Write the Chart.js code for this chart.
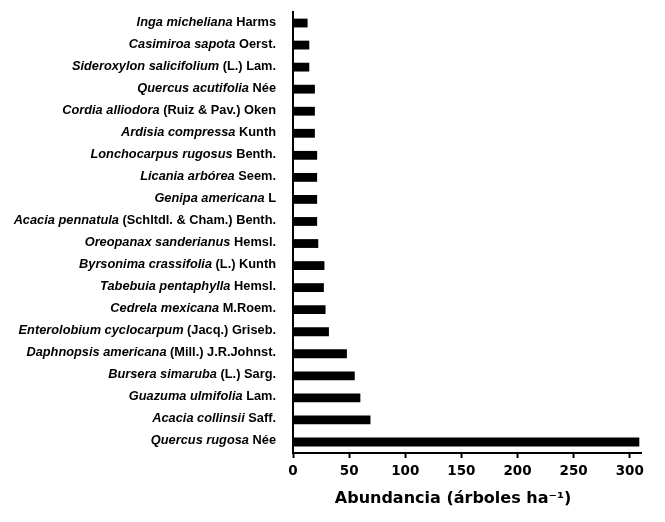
<!DOCTYPE html>
<html>
<head>
<meta charset="utf-8">
<script src="https://cdn.jsdelivr.net/npm/chart.js@4"></script>
<style>
    html, body { margin: 0; padding: 0; background: #fff; }
    #wrap { width: 665px; height: 522px; }
</style>
</head>
<body>
<div id="wrap"><canvas id="barChart" width="665" height="522"></canvas></div>
<script>
// Species (italic part) and authority (regular part), top to bottom
const genusNames = [
    'Inga micheliana', 'Casimiroa sapota', 'Sideroxylon salicifolium', 'Quercus acutifolia',
    'Cordia alliodora', 'Ardisia compressa', 'Lonchocarpus rugosus', 'Licania arbórea',
    'Genipa americana', 'Acacia pennatula', 'Oreopanax sanderianus', 'Byrsonima crassifolia',
    'Tabebuia pentaphylla', 'Cedrela mexicana', 'Enterolobium cyclocarpum', 'Daphnopsis americana',
    'Bursera simaruba', 'Guazuma ulmifolia', 'Acacia collinsii', 'Quercus rugosa'
];
const authorities = [
    'Harms', 'Oerst.', '(L.) Lam.', 'Née',
    '(Ruiz & Pav.) Oken', 'Kunth', 'Benth.', 'Seem.',
    'L', '(Schltdl. & Cham.) Benth.', 'Hemsl.', '(L.) Kunth',
    'Hemsl.', 'M.Roem.', '(Jacq.) Griseb.', '(Mill.) J.R.Johnst.',
    '(L.) Sarg.', 'Lam.', 'Saff.', 'Née'
];
// Abundance (trees per ha)
const abundance = [
    13, 14.5, 14.5, 19.5,
    19.5, 19.5, 21.5, 21.5,
    21.5, 21.5, 22.5, 28,
    27.5, 29, 32, 48,
    55, 60, 69, 308.5
];
const xTicks = [0, 50, 100, 150, 200, 250, 300];
const xTitle = 'Abundancia (árboles ha⁻¹)';

const labels = genusNames.map((g, i) => g + ' ' + authorities[i]);

// Draw y labels with italic genus + regular authority, and the x title
const labelPlugin = {
    id: 'speciesLabels',
    afterDraw(chart) {
        const ctx = chart.ctx;
        const yScale = chart.scales.y;
        const right = 276;
        ctx.save();
        ctx.fillStyle = '#000';
        ctx.textBaseline = 'middle';
        ctx.textAlign = 'left';
        const italicFont = 'italic bold 12.8px "Liberation Sans", Arial, sans-serif';
        const normalFont = 'bold 12.8px "Liberation Sans", Arial, sans-serif';
        genusNames.forEach((g, i) => {
            const y = yScale.getPixelForValue(i) - 1;
            ctx.font = normalFont;
            const authText = ' ' + authorities[i];
            const wAuth = ctx.measureText(authText).width;
            ctx.font = italicFont;
            const wGenus = ctx.measureText(g).width;
            const x0 = right - wAuth - wGenus;
            ctx.fillText(g, x0, y);
            ctx.font = normalFont;
            ctx.fillText(authText, x0 + wGenus, y);
        });

        // x axis title
        ctx.font = 'bold 16px "DejaVu Sans", Verdana, sans-serif';
        ctx.textAlign = 'center';
        ctx.textBaseline = 'alphabetic';
        ctx.fillText(xTitle, 453, 503);
        ctx.restore();
    }
};

const ctx = document.getElementById('barChart').getContext('2d');
const barChart = new Chart(ctx, {
    type: 'bar',
    data: {
        labels: labels,
        datasets: [{
            label: 'Abundancia',
            data: abundance,
            backgroundColor: '#000',
            borderWidth: 0,
            barPercentage: 0.4,
            categoryPercentage: 1.0
        }]
    },
    options: {
        indexAxis: 'y',
        responsive: false,
        animation: false,
        layout: {
            padding: { top: 12, right: 24, left: 0, bottom: 0 }
        },
        scales: {
            x: {
                min: 0,
                max: 310,
                afterFit(scale) { scale.height = 69; },
                afterBuildTicks(scale) {
                    scale.ticks = xTicks.map(v => ({ value: v }));
                },
                grid: {
                    display: true,
                    drawOnChartArea: false,
                    drawTicks: true,
                    tickLength: 5,
                    tickWidth: 2,
                    tickColor: '#000'
                },
                border: { display: true, color: '#000', width: 2 },
                ticks: {
                    color: '#000',
                    padding: 5,
                    maxRotation: 0,
                    font: { family: '"DejaVu Sans", Verdana, sans-serif', size: 13.5, weight: 'bold' }
                }
            },
            y: {
                afterFit(scale) { scale.width = 293; },
                grid: { display: false, drawTicks: false },
                border: { display: true, color: '#000', width: 2 },
                ticks: { display: false }
            }
        },
        plugins: {
            legend: { display: false },
            tooltip: { enabled: false }
        }
    },
    plugins: [labelPlugin]
});
</script>
</body>
</html>
